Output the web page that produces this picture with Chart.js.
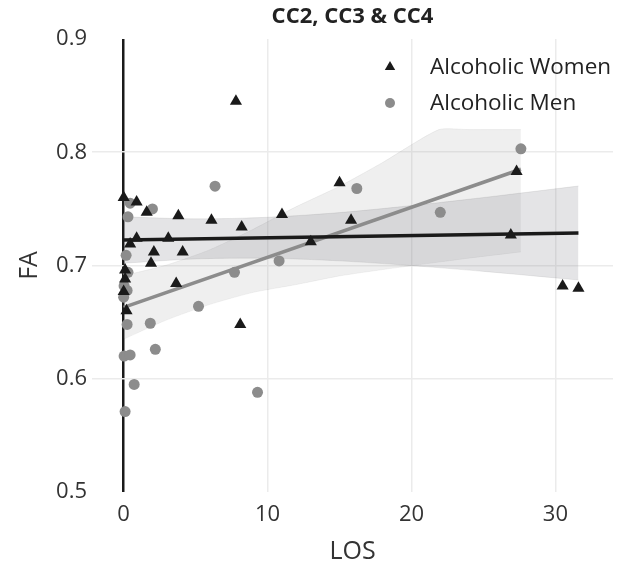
<!DOCTYPE html>
<html>
<head>
<meta charset="utf-8">
<script src="https://cdn.jsdelivr.net/npm/chart.js@4"></script>
<style>
  html, body { margin: 0; padding: 0; background: #fff; }
  #wrap { width: 626px; height: 564px; }
</style>
</head>
<body>
<div id="wrap"><canvas id="faChart" width="626" height="564"></canvas></div>
<script>
// values
const chartTitle = 'CC2, CC3 & CC4';
const seriesNames = ['Alcoholic Women', 'Alcoholic Men'];

// Alcoholic Women (triangles)
const womenLOS = [0, 0.9, 1.6, 3.8, 6.1, 8.2, 0.9, 3.1, 0.45, 2.1, 4.1, 1.9, 0.1, 0.1, 3.65, 0, 0.2,
                  7.8, 15.0, 11.0, 15.8, 13.0, 8.1, 26.9, 27.3, 30.5, 31.6];
const womenFA  = [0.760, 0.756, 0.747, 0.744, 0.740, 0.734, 0.724, 0.724, 0.719, 0.712, 0.712, 0.702, 0.696, 0.688, 0.684, 0.677, 0.660,
                  0.845, 0.773, 0.745, 0.740, 0.721, 0.648, 0.727, 0.783, 0.682, 0.680];

// Alcoholic Men (circles)
const menLOS = [0.45, 2.0, 0.3, 6.35, 0.17, 0.3, 0.03, 0.24, 0, 5.2, 7.7, 10.8, 16.2, 22.0, 27.6,
                0.24, 1.85, 0.03, 0.45, 2.2, 0.73, 9.3, 0.1];
const menFA  = [0.755, 0.750, 0.743, 0.770, 0.709, 0.694, 0.682, 0.678, 0.672, 0.664, 0.694, 0.704, 0.768, 0.747, 0.803,
                0.648, 0.649, 0.620, 0.621, 0.626, 0.595, 0.588, 0.571];

// fitted lines (ends)
const womenFitLOS = [0, 31.6];
const womenFitFA  = [0.7225, 0.7287];
const menFitLOS = [0, 27.6];
const menFitFA  = [0.663, 0.785];

// confidence bands
const womenBandLOS   = [0, 5, 10, 15, 20, 25, 31.6];
const womenBandUpper = [0.743, 0.7412, 0.7426, 0.7467, 0.7529, 0.760, 0.7702];
const womenBandLower = [0.702, 0.7058, 0.7064, 0.7041, 0.6999, 0.6948, 0.6872];
const menBandLOS   = [0, 3, 6, 9, 12, 15, 18, 21.9, 24, 27.6];
const menBandUpper = [0.691, 0.7005, 0.714, 0.732, 0.752, 0.770, 0.791, 0.820, 0.820, 0.820];
const menBandLower = [0.635, 0.652, 0.6657, 0.6763, 0.6832, 0.6908, 0.6964, 0.703, 0.7065, 0.712];

// axis ticks
const xTicks = [0, 10, 20, 30];
const yTicks = [0.5, 0.6, 0.7, 0.8, 0.9];

const pts = (xs, ys) => xs.map((x, i) => ({ x: x, y: ys[i] }));

const FONT = '"Open Sans", "Noto Sans", sans-serif';

// title centred over the plot, legend inside the plot (top right)
const titleAndLegend = {
  id: 'titleAndLegend',
  afterDraw(chart) {
    const ctx = chart.ctx;
    const area = chart.chartArea;
    ctx.save();
    ctx.font = 'bold 22px ' + FONT;
    ctx.fillStyle = '#222';
    ctx.textAlign = 'center';
    ctx.textBaseline = 'middle';
    ctx.fillText(chartTitle, (area.left + area.right) / 2, 17);

    const mx = area.right - 223;
    const tx = area.right - 183;
    const rows = [
      { y: area.top + 28, style: 'triangle', color: '#1a1a1a', r: 6 },
      { y: area.top + 64, style: 'circle', color: '#8c8c8c', r: 5 }
    ];
    ctx.font = '22.5px ' + FONT;
    ctx.textAlign = 'left';
    rows.forEach((row, i) => {
      ctx.fillStyle = row.color;
      Chart.helpers.drawPoint(ctx, { pointStyle: row.style, radius: row.r, rotation: 0, borderWidth: 0 }, mx, row.y);
      ctx.fillStyle = '#222';
      ctx.fillText(seriesNames[i], tx, row.y + 1);
    });
    ctx.restore();
  }
};

const data = {
  datasets: [
    {
      label: seriesNames[0],
      data: pts(womenLOS, womenFA),
      pointStyle: 'triangle',
      pointRadius: 7,
      backgroundColor: '#1a1a1a',
      borderWidth: 0
    },
    {
      label: seriesNames[1],
      data: pts(menLOS, menFA),
      pointStyle: 'circle',
      pointRadius: 5.5,
      backgroundColor: '#8c8c8c',
      borderWidth: 0
    },
    {
      label: 'women fit',
      data: pts(womenFitLOS, womenFitFA),
      showLine: true,
      pointRadius: 0,
      borderColor: '#1a1a1a',
      borderWidth: 3.5
    },
    {
      label: 'men fit',
      data: pts(menFitLOS, menFitFA),
      showLine: true,
      pointRadius: 0,
      borderColor: '#8c8c8c',
      borderWidth: 3.5
    },
    {
      label: 'women upper',
      data: pts(womenBandLOS, womenBandUpper),
      showLine: true,
      pointRadius: 0,
      tension: 0.3,
      borderColor: 'rgba(0,0,0,0.07)',
      borderWidth: 1,
      backgroundColor: 'rgba(120,120,128,0.2)',
      fill: '+1'
    },
    {
      label: 'women lower',
      data: pts(womenBandLOS, womenBandLower),
      showLine: true,
      pointRadius: 0,
      tension: 0.3,
      borderColor: 'rgba(0,0,0,0.07)',
      borderWidth: 1
    },
    {
      label: 'men upper',
      data: pts(menBandLOS, menBandUpper),
      showLine: true,
      pointRadius: 0,
      tension: 0.2,
      borderColor: 'rgba(0,0,0,0.05)',
      borderWidth: 1,
      backgroundColor: 'rgba(160,160,160,0.17)',
      fill: '+1'
    },
    {
      label: 'men lower',
      data: pts(menBandLOS, menBandLower),
      showLine: true,
      pointRadius: 0,
      tension: 0.2,
      borderColor: 'rgba(0,0,0,0.05)',
      borderWidth: 1
    }
  ]
};

const config = {
  type: 'scatter',
  data: data,
  options: {
    responsive: false,
    animation: false,
    events: [],
    layout: { padding: { left: 0, right: 13, top: 39, bottom: 0 } },
    plugins: {
      legend: { display: false },
      tooltip: { enabled: false },
      title: { display: false }
    },
    scales: {
      x: {
        type: 'linear',
        min: -2.2,
        max: 34,
        afterBuildTicks: s => { s.ticks = xTicks.map(v => ({ value: v })); },
        afterFit: s => { s.height = 72; },
        border: { display: false },
        grid: {
          drawTicks: false,
          color: c => (c.tick && c.tick.value === 0) ? '#1a1a1a' : '#ebebeb',
          lineWidth: c => (c.tick && c.tick.value === 0) ? 2.5 : 1.5
        },
        ticks: { color: '#333', padding: 10, font: { family: FONT, size: 22 } },
        title: {
          display: true,
          text: 'LOS',
          color: '#333',
          font: { family: FONT, size: 25, lineHeight: 1 },
          padding: { top: 0, bottom: 0 }
        }
      },
      y: {
        type: 'linear',
        min: 0.5,
        max: 0.9,
        afterBuildTicks: s => { s.ticks = yTicks.map(v => ({ value: v })); },
        afterFit: s => { s.width = 92; },
        border: { display: false },
        grid: {
          drawTicks: false,
          color: c => (c.tick && (c.tick.value === 0.5 || c.tick.value === 0.9)) ? 'rgba(0,0,0,0)' : '#ebebeb',
          lineWidth: 1.5
        },
        ticks: {
          color: '#333',
          padding: 5,
          font: { family: FONT, size: 22 },
          callback: v => v.toFixed(1)
        },
        title: {
          display: true,
          text: 'FA',
          color: '#333',
          font: { family: FONT, size: 25, lineHeight: 1.2 },
          padding: { top: 15, bottom: 0 }
        }
      }
    }
  },
  plugins: [titleAndLegend]
};

new Chart(document.getElementById('faChart').getContext('2d'), config);
</script>
</body>
</html>
